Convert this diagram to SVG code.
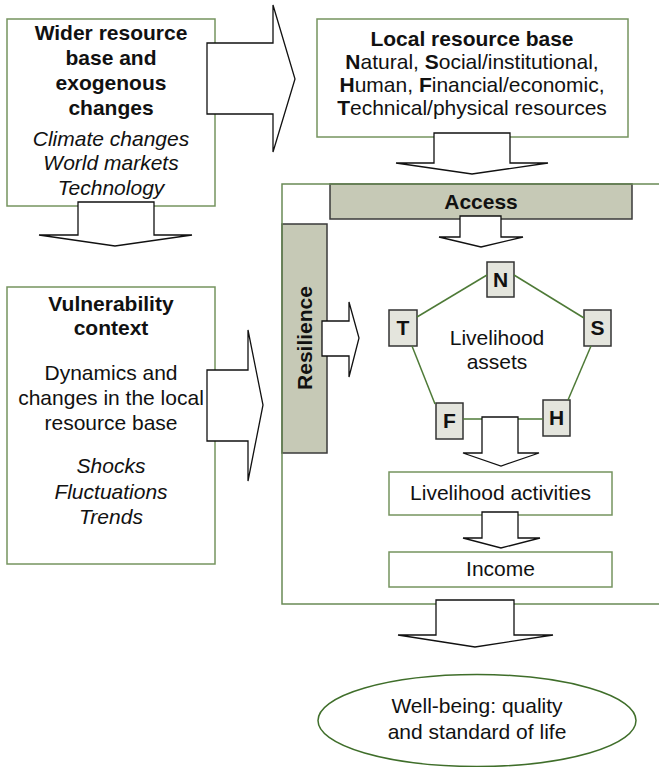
<svg xmlns="http://www.w3.org/2000/svg" width="659" height="767" viewBox="0 0 659 767">
<style>
text{font-family:"Liberation Sans",Arial,sans-serif;font-size:21px;fill:#111;text-anchor:middle}
.b{font-weight:bold}
.i{font-style:italic}
.box{fill:#fff;stroke:#76945f;stroke-width:1.5}
.bar{fill:#c6c9b6;stroke:#3a3a3a;stroke-width:1.5}
.node{fill:#e4e5dd;stroke:#333;stroke-width:1.5}
.arrow{fill:#fff;stroke:#111;stroke-width:1.3;stroke-linejoin:miter}
.edge{stroke:#4e7a37;stroke-width:1.5;fill:none}
</style>
<g id="access">
<rect x="330" y="184" width="302" height="35" class="bar"/>
<text x="481" y="209" class="b">Access</text>
</g>
<g id="resilience">
<rect x="282" y="224" width="45" height="229" class="bar"/>
<text x="0" y="0" class="b" transform="translate(312,338) rotate(-90)">Resilience</text>
</g>
<g id="container">
<path d="M659,184 H282 V604 H659" fill="none" stroke="#6a8a55" stroke-width="1.5"/>
</g>
<g id="wider">
<rect x="7" y="19" width="208" height="187" class="box"/>
<text x="111" y="40" class="b">Wider resource</text>
<text x="111" y="65" class="b">base and</text>
<text x="111" y="90" class="b">exogenous</text>
<text x="111" y="115" class="b">changes</text>
<text x="111" y="146" class="i">Climate changes</text>
<text x="111" y="170" class="i">World markets</text>
<text x="111" y="195" class="i">Technology</text>
</g>
<g id="local">
<rect x="317" y="19" width="311" height="118" class="box"/>
<text x="472" y="46" class="b">Local resource base</text>
<text x="472" y="69"><tspan class="b">N</tspan>atural, <tspan class="b">S</tspan>ocial/institutional,</text>
<text x="472" y="92"><tspan class="b">H</tspan>uman, <tspan class="b">F</tspan>inancial/economic,</text>
<text x="472" y="115"><tspan class="b">T</tspan>echnical/physical resources</text>
</g>
<g id="vulnerability">
<rect x="7" y="287" width="208" height="277" class="box"/>
<text x="111" y="311" class="b">Vulnerability</text>
<text x="111" y="335" class="b">context</text>
<text x="111" y="380">Dynamics and</text>
<text x="111" y="405">changes in the local</text>
<text x="111" y="430">resource base</text>
<text x="111" y="473" class="i">Shocks</text>
<text x="111" y="499" class="i">Fluctuations</text>
<text x="111" y="524" class="i">Trends</text>
</g>
<g id="assets">
<text x="497" y="345">Livelihood</text>
<text x="497" y="369">assets</text>
</g>
<g id="node-N"><rect x="487" y="262" width="27" height="35" class="node"/><text x="500.5" y="287" class="b">N</text></g>
<g id="node-T"><rect x="389" y="310" width="28" height="36" class="node"/><text x="403" y="335" class="b">T</text></g>
<g id="node-S"><rect x="584" y="310" width="27" height="36" class="node"/><text x="597.5" y="335" class="b">S</text></g>
<g id="node-F"><rect x="436" y="403" width="27" height="36" class="node"/><text x="449.5" y="428" class="b">F</text></g>
<g id="node-H"><rect x="543" y="400" width="27" height="36" class="node"/><text x="556.5" y="425" class="b">H</text></g>
<g id="activities">
<rect x="389" y="472" width="223" height="43" class="box"/>
<text x="500.5" y="500">Livelihood activities</text>
</g>
<g id="income">
<rect x="389" y="552" width="223" height="35" class="box"/>
<text x="500.5" y="576">Income</text>
</g>
<g id="wellbeing">
<ellipse cx="477" cy="720.5" rx="159" ry="46" fill="#fff" stroke="#3f6e2a" stroke-width="1.5"/>
<text x="477" y="713">Well-being: quality</text>
<text x="477" y="739">and standard of life</text>
</g>
<g id="connectors">
<line x1="487" y1="275" x2="417" y2="317" class="edge"/>
<line x1="514" y1="275" x2="584" y2="318" class="edge"/>
<line x1="591" y1="346" x2="568" y2="400" class="edge"/>
<line x1="412" y1="346" x2="435" y2="404" class="edge"/>
<line x1="463" y1="419" x2="543" y2="419" class="edge"/>
<polygon class="arrow" points="207,43 273,43 273,5 295,79 273,152 273,114 207,114"/>
<polygon class="arrow" points="78,202 154,202 154,235 192,235 115,246 39,235 78,235"/>
<polygon class="arrow" points="434,133 510,133 510,163 548,163 472,174 396,163 434,163"/>
<polygon class="arrow" points="460,216 501,216 501,237 523,237 481,247 439,237 460,237"/>
<polygon class="arrow" points="207,370 248,370 248,330 263,405 248,481 248,441 207,441"/>
<polygon class="arrow" points="322,321 349,321 349,302 359,338 349,377 349,356 322,356"/>
<polygon class="arrow" points="482,417 518,417 518,453 539,453 501,466 463,453 482,453"/>
<polygon class="arrow" points="482,512 518,512 518,538 540,538 501,548 463,538 482,538"/>
<polygon class="arrow" points="436,600 514,600 514,635 553,635 475,647 398,635 436,635"/>
</g>
</svg>
